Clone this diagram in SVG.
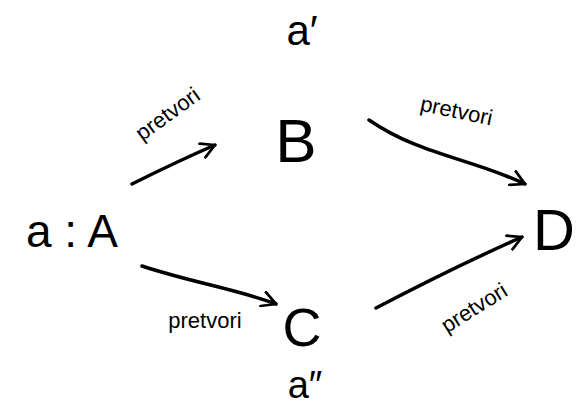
<svg xmlns="http://www.w3.org/2000/svg" width="581" height="413" viewBox="0 0 581 413">
<style>
.n{font-family:"Liberation Sans","DejaVu Sans",sans-serif;fill:#000;text-anchor:middle}
.lbl{font-family:"Liberation Sans","DejaVu Sans",sans-serif;font-size:22px;fill:#000;text-anchor:middle}
.e{fill:none;stroke:#000;stroke-width:3.5;stroke-linecap:round;stroke-linejoin:round}
</style>
<defs>
<marker id="ah" viewBox="0 0 14 14" refX="12" refY="7" markerWidth="5" markerHeight="5" orient="auto" markerUnits="strokeWidth">
<path d="M1,1 L12,7 L1,13" fill="none" stroke="#000" stroke-width="2.2" stroke-linecap="round" stroke-linejoin="round"/>
</marker>
</defs>
<rect width="581" height="413" fill="#fff"/>
<g id="nodeA"><text class="n" x="72" y="247" font-size="46">a : A</text></g>
<g id="nodeB"><text class="n" x="296" y="162" font-size="62">B</text><text class="n" x="302" y="45" font-size="42">a′</text></g>
<g id="nodeC"><text class="n" x="302" y="346" font-size="54">C</text><text class="n" x="305" y="398" font-size="38">a″</text></g>
<g id="nodeD"><text class="n" x="554" y="250" font-size="58">D</text></g>
<g id="connectors">
<path class="e" marker-end="url(#ah)" d="M132,184 C160,170 185,158 215,145"/>
<path class="e" marker-end="url(#ah)" d="M369,120 C420,155 470,158 525,184"/>
<path class="e" marker-end="url(#ah)" d="M142,266 C190,282 240,290 276,304"/>
<path class="e" marker-end="url(#ah)" d="M376,308 C420,285 470,260 522,237"/>
<text class="lbl" transform="translate(172,120) rotate(-36)">pretvori</text>
<text class="lbl" transform="translate(455,118) rotate(12)">pretvori</text>
<text class="lbl" x="205" y="328">pretvori</text>
<text class="lbl" transform="translate(478,314) rotate(-32)">pretvori</text>
</g>
</svg>
